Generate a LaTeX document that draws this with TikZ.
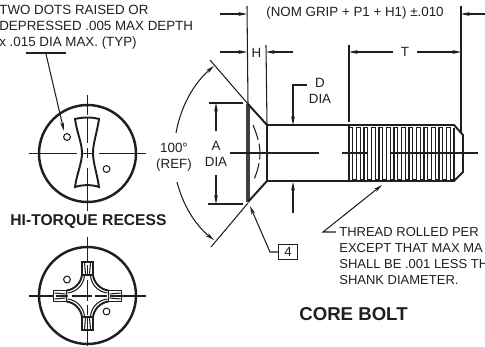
\documentclass[tikz,border=0pt]{standalone}
\usepackage{fontspec}
\setmainfont{Liberation Sans}
\usetikzlibrary{arrows.meta}
\definecolor{tinta}{gray}{0.12}
\tikzset{
  fino/.style={draw=tinta, line width=0.6pt},
  grueso/.style={draw=tinta, line width=1.1pt},
  cota/.style={draw=tinta, line width=0.6pt, -{Stealth[length=5pt,width=2.2pt]}},
  rotulo/.style={text=tinta, inner sep=0pt, font=\fontsize{7.6}{9.1}\selectfont},
  titulo/.style={text=tinta, inner sep=0pt, font=\fontsize{8.9}{9}\selectfont\bfseries}
}
\begin{document}
\begin{tikzpicture}[x=0.02cm, y=-0.02cm]
\useasboundingbox (0,0) rectangle (485,346);

% Nota superior
\node[rotulo, anchor=north west, align=left] (notaPuntos) at (-1,5) {TWO DOTS RAISED OR\\DEPRESSED .005 MAX DEPTH\\x .015 DIA MAX. (TYP)};
\coordinate (subA) at (26,53);
\coordinate (subB) at (66,53);
\draw[grueso] (subA) -- (subB);
\draw[cota] (46,54) -- (64,131);

% Receso superior
\draw[line width=1.4pt, draw=tinta] (87.5,153.5) circle (48.5);
\draw[grueso] (75,119) .. controls (83,117) and (92,117) .. (99,119)
  .. controls (97,133) and (93,143) .. (93,153) .. controls (93,163) and (97,173) .. (99,187)
  .. controls (92,184.5) and (83,184.5) .. (75,187)
  .. controls (77,173) and (82,163) .. (82,153) .. controls (82,143) and (77,133) .. (75,119) -- cycle;
\draw[fino] (67,137) circle (3.4);
\draw[fino] (106.5,169) circle (3.4);
\draw[fino] (29,153.5) -- (77,153.5);
\draw[fino] (82,153.5) -- (93,153.5);
\draw[fino] (99,153.5) -- (146,153.5);
\draw[fino] (87.5,95) -- (87.5,115);
\draw[fino] (87.5,117) -- (87.5,143);
\draw[fino] (87.5,148) -- (87.5,158);
\draw[fino] (87.5,168) -- (87.5,211);

\node[titulo] (tituloReceso) at (88.5,222) {HI-TORQUE RECESS};

% Receso inferior
\draw[line width=1.4pt, draw=tinta] (87.5,295.5) circle (48.5);
\foreach \ang in {0,90,180,270}{
  \begin{scope}[shift={(87.5,296)}, rotate=\ang]
    \draw[grueso] (-5.5,-21) -- (-5.5,-34) -- (5.5,-34) -- (5.5,-21) -- cycle;
    \draw[fino] (-3,-33) -- (-2,-22);
    \draw[fino] (3,-33) -- (2,-22);
    \draw[grueso] (5.5,-21) .. controls (6.5,-13) and (13,-6.5) .. (21,-5.5);
    \draw[fino] (3,-20) .. controls (4,-11) and (11,-4) .. (20,-3);
  \end{scope}
}
\draw[fino] (29,296) -- (53,296);
\draw[fino] (56,296) -- (68,296);
\draw[fino] (72,296) -- (83,296);
\draw[fino] (83,296) -- (92,296);
\draw[fino] (95,296) -- (107,296);
\draw[fino] (110,296) -- (146,296);
\draw[fino] (87.5,237) -- (87.5,262);
\draw[fino] (87.5,265) -- (87.5,275);
\draw[fino] (87.5,280) -- (87.5,291);
\draw[fino] (87.5,291) -- (87.5,301);
\draw[fino] (87.5,305) -- (87.5,315);
\draw[fino] (87.5,318) -- (87.5,346);
\draw[fino] (67,279.5) circle (3.4);
\draw[fino] (106.5,311.5) circle (3.4);

% Perno
\coordinate (cabSup) at (248,104);
\coordinate (cabInf) at (248,202);
\coordinate (cuelloSup) at (267,125);
\coordinate (cuelloInf) at (267,181);
\coordinate (puntaSup) at (454,125);
\coordinate (puntaInf) at (454,181);
\draw[line width=2pt, draw=tinta!85] (cabSup) -- (cabInf);
\draw[grueso] (cabSup) -- (cuelloSup) -- (puntaSup) -- (463,135) -- (463,172) -- (puntaInf) -- (cuelloInf) -- (cabInf);
\draw[grueso] (cuelloSup) -- (cuelloInf);
\draw[fino, dash pattern=on 9pt off 2.2pt] (253,125) .. controls (258,137) and (260,146) .. (260,153) .. controls (260,162) and (258,170) .. (253,182);

% Rosca
\draw[fino] (349,126) -- (349,180);
\foreach \i in {0,...,13}{
  \pgfmathsetmacro{\xa}{349+7.5*\i}
  \pgfmathsetmacro{\xb}{\xa+3.75}
  \pgfmathsetmacro{\xc}{\xa+7.5}
  \draw[fino] (\xa,180) -- (\xa,127.5) -- (\xb,127.5) -- (\xb,180) -- (\xc,180);
}
\draw[fino] (454,127.5) -- (454,180);
\draw[fino] (230,153) -- (319,153);
\draw[fino] (342,153) -- (368,153);
\draw[fino] (390,153) -- (478,153);

% Cotas superiores
\draw[fino] (247,6) -- (cabSup);
\draw[fino] (266,45) -- (cuelloSup);
\draw[fino] (349,45) -- (349,122);
\draw[fino] (461,6) -- (461,133);
\draw[cota] (220,14) -- (247,14);
\draw[cota] (485,14) -- (461,14);
\node[rotulo, anchor=west] (notaGrip) at (266,13) {(NOM GRIP + P1 + H1) ±.010};
\draw[cota] (220,52) -- (247,52);
\draw[cota] (293,52) -- (266,52);
\node[rotulo] (letraH) at (256.5,53) {H};
\node[rotulo] (letraT) at (405,52) {T};
\draw[cota] (letraT.west) ++(-8,0) -- (349,52);
\draw[cota] (letraT.east) ++(8,0) -- (461,52);

% Diametro D
\node[rotulo, align=center] (notaD) at (320,91) {D\\DIA};
\draw[cota] (307,85) -- (293,85) -- (293,125);
\draw[cota] (293,213) -- (293,182);

% Diametro A
\draw[fino] (209,103) -- (243,103);
\draw[fino] (208,204) -- (243,204);
\node[rotulo, align=center] (notaA) at (216,154) {A\\DIA};
\draw[cota] (216,131) -- (216,103);
\draw[cota] (216,175) -- (216,204);

% Angulo
\draw[fino] (cabSup) -- (210,60);
\draw[fino] (cabInf) ++(0,1) -- (211,247);
\node[rotulo, align=center] (notaAng) at (174,157) {100°\\(REF)};
\draw[cota] (176,133) .. controls (181,105) and (195,82) .. (214,66);
\draw[cota] (177,182) .. controls (183,205) and (195,225) .. (214,240);

% Llamadas
\node[rotulo, draw=tinta, line width=0.7pt, minimum width=10.5pt, minimum height=8.5pt] (caja4) at (288,252) {4};
\draw[cota] (caja4.west) -- (270,252) -- (250,206);
\node[rotulo, anchor=north west, align=left, font=\fontsize{7.4}{9.1}\selectfont] (notaRosca) at (339,227) {THREAD ROLLED PER\\EXCEPT THAT MAX MA\\SHALL BE .001 LESS TH\\SHANK DIAMETER.};
\draw[cota] (336,232) -- (323,232) -- (382,185);
\node[titulo, anchor=west, font=\fontsize{10.6}{12}\selectfont\bfseries] (tituloPerno) at (299,314) {CORE BOLT};
\end{tikzpicture}
\end{document}
